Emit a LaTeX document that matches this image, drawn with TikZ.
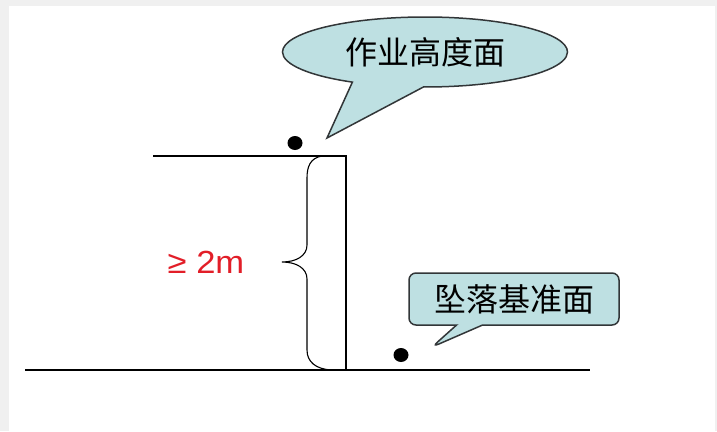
\documentclass[tikz,border=0pt]{standalone}
\usepackage{fontspec}
\setmainfont{Liberation Sans}
\newfontfamily\cjk{Noto Sans CJK SC}
\usetikzlibrary{shapes.geometric, shapes.callouts}
\definecolor{bubblefill}{RGB}{190,224,226}
\definecolor{bubbleline}{RGB}{50,54,56}
\definecolor{markred}{RGB}{226,30,40}
\definecolor{slidegray}{RGB}{240,240,240}
\begin{document}
\begin{tikzpicture}[x=1pt, y=-1pt, line width=1.3pt,
    bubble/.style = {draw=bubbleline, fill=bubblefill, line width=1.5pt, font=\cjk\fontsize{32}{38}\selectfont},
    person/.style = {fill=black, ellipse, inner sep=0pt, minimum width=15pt, minimum height=14pt}]
        % slide background
        \fill[slidegray] (0,0) rectangle (717,431);
        \fill[white] (9,6) rectangle (715,431);
        \useasboundingbox (0,0) rectangle (717,431);
        % ground and platform
        \coordinate (topleft) at (153,156);
        \coordinate (edge) at (346,156);
        \coordinate (foot) at (346,370);
        \coordinate (groundleft) at (25,370);
        \coordinate (groundright) at (590,370);
        \draw (topleft) -- (edge) -- (foot);
        \draw (groundleft) -- (groundright);
        % brace
        \draw[line width=1.1pt] (322,156) .. controls (310,158) and (307,167) .. (307,178) -- (307,245)
            .. controls (307,256) and (296,262) .. (282,262)
            .. controls (296,262) and (307,268) .. (307,279) -- (307,350)
            .. controls (307,362) and (316,369) .. (331,370);
        \node[text=markred, font=\fontsize{32}{38}\selectfont, xscale=1.08] (height) at (206,262) {≥ 2m};
        % persons
        \node[person] (upper) at (295,143) {};
        \node[person] (lower) at (401,355) {};
        % callouts
        \node[bubble, ellipse callout, minimum width=285pt, minimum height=70pt,
            callout pointer arc=30, callout absolute pointer={(327,138)}] (work) at (425,52) {作业高度面};
        \node[bubble, rectangle callout, rounded corners=7pt, minimum width=210pt, minimum height=52pt,
            callout pointer width=26pt, callout absolute pointer={(432,347)}] (base) at (514,299) {坠落基准面};
    \end{tikzpicture}
\end{document}
